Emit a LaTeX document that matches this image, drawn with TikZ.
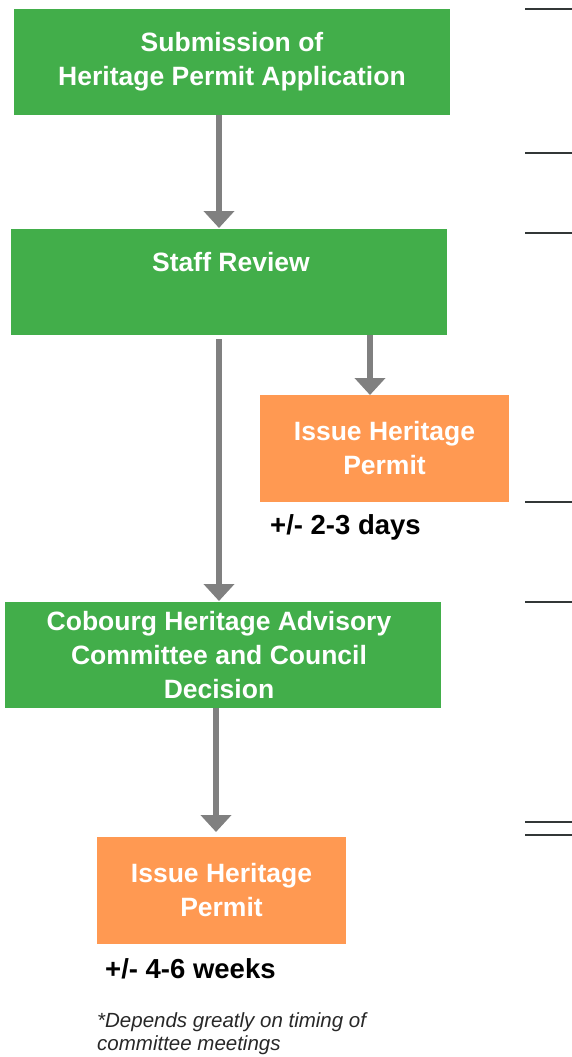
\documentclass[tikz,border=0pt]{standalone}
\usepackage{fontspec}
\setmainfont{Liberation Sans}
\usetikzlibrary{arrows.meta}
\definecolor{boxgreen}{RGB}{66,174,74}
\definecolor{boxorange}{RGB}{255,153,82}
\definecolor{arrowgray}{RGB}{128,128,128}
\definecolor{rulegray}{RGB}{50,55,55}
\definecolor{notegray}{RGB}{40,40,40}
\begin{document}
\begin{tikzpicture}[x=1pt,y=-1pt,
  gbox/.style={fill=boxgreen,draw=none,text=white,font=\fontsize{26.5}{34}\selectfont\bfseries,align=center,inner sep=0pt},
  obox/.style={fill=boxorange,draw=none,text=white,font=\fontsize{26.5}{34}\selectfont\bfseries,align=center,inner sep=0pt},
  flow/.style={draw=arrowgray,line width=6pt,-{Triangle[width=30pt,length=17pt]}},
  note/.style={font=\fontsize{27.5}{34}\selectfont\bfseries,text=black,anchor=west,inner sep=0pt},
  rule/.style={draw=rulegray,line width=2pt}]
\useasboundingbox (0,0) rectangle (572,1057);
\fill[white] (0,0) rectangle (572,1057);
% boxes
\node[gbox,minimum width=436pt,minimum height=106pt] (sub) at (232,62) {Submission of\\Heritage Permit Application};
\node[gbox,minimum width=436pt,minimum height=106pt] (staff) at (229,282) {};
\node[text=white,font=\fontsize{26.5}{34}\selectfont\bfseries,inner sep=0pt] (stafft) at (231,262) {Staff Review};
\node[obox,minimum width=249pt,minimum height=107pt] (iss1) at (384.5,448.5) {Issue Heritage\\Permit};
\node[note] (d1) at (270,527) {+/- 2-3 days};
\node[gbox,minimum width=436pt,minimum height=106pt] (chac) at (223,655) {};
\node[text=white,font=\fontsize{26.5}{34}\selectfont\bfseries,align=center,inner sep=0pt] (chact) at (219,655) {Cobourg Heritage Advisory\\Committee and Council\\Decision};
\node[obox,minimum width=249pt,minimum height=107pt] (iss2) at (221.5,890.5) {Issue Heritage\\Permit};
\node[note] (d2) at (105,969) {+/- 4-6 weeks};
\node[anchor=north west,inner sep=0pt,align=left,text=notegray,font=\fontsize{20.5}{23}\selectfont\itshape] (fn) at (97,1012) {*Depends greatly on timing of\\committee meetings};
% arrows
\coordinate (a1s) at (219,115);
\coordinate (a2s) at (219,339);
\coordinate (a3s) at (370,335);
\coordinate (a4s) at (216,708);
\draw[flow] (a1s) -- (219,228);
\draw[flow] (a2s) -- (219,601);
\draw[flow] (a3s) -- (370,395);
\draw[flow] (a4s) -- (216,832);
% right rules
\foreach \yy/\nm in {9/r1,153/r2,233/r3,502/r4,602/r5,822/r6,835/r7}{
  \coordinate (\nm a) at (525,\yy);
  \coordinate (\nm b) at (572,\yy);
  \draw[rule] (\nm a) -- (\nm b);
}
\end{tikzpicture}
\end{document}
